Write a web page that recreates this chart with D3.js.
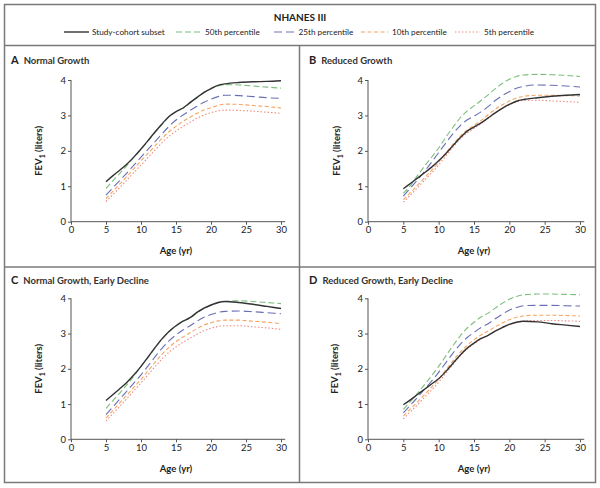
<!DOCTYPE html>
<html><head><meta charset="utf-8">
<script src="https://cdn.jsdelivr.net/npm/d3@7"></script>
<style>
body{margin:0;background:#fff;}
text{font-family:Lato,"Open Sans",sans-serif;fill:#222;}
</style></head>
<body><svg id="c" width="600" height="488"></svg>
<script>
const ages = [5,6,7,8,9,10,11,12,13,14,15,16,17,18,19,20,21,22,24,26,28,30];
const seriesNames = ["Study-cohort subset","50th percentile","25th percentile","10th percentile","5th percentile"];
const xTicks = [0,5,10,15,20,25,30];
const yTicks = [0,1,2,3,4];
const panelTitles = [["A","Normal Growth"],["B","Reduced Growth"],["C","Normal Growth, Early Decline"],["D","Reduced Growth, Early Decline"]];

// Panel A
const aCohort = [1.13,1.30,1.46,1.63,1.83,2.05,2.29,2.53,2.76,2.97,3.11,3.21,3.36,3.51,3.65,3.76,3.85,3.89,3.93,3.95,3.96,3.98];
const aP50 = [0.94,1.16,1.37,1.59,1.82,2.04,2.28,2.52,2.75,2.96,3.10,3.20,3.35,3.50,3.64,3.75,3.83,3.87,3.86,3.83,3.80,3.77];
const aP25 = [0.75,0.96,1.17,1.38,1.60,1.82,2.04,2.26,2.48,2.69,2.87,3.01,3.14,3.26,3.37,3.46,3.53,3.57,3.56,3.53,3.50,3.48];
const aP10 = [0.65,0.86,1.07,1.28,1.50,1.72,1.93,2.14,2.35,2.54,2.69,2.83,2.95,3.06,3.15,3.22,3.28,3.32,3.31,3.28,3.25,3.21];
const aP5  = [0.57,0.77,0.97,1.18,1.39,1.60,1.81,2.02,2.23,2.41,2.56,2.69,2.81,2.92,3.01,3.08,3.13,3.15,3.14,3.12,3.09,3.06];
// Panel B
const bCohort = [0.93,1.08,1.23,1.38,1.54,1.72,1.92,2.14,2.36,2.55,2.67,2.79,2.93,3.07,3.20,3.31,3.40,3.45,3.50,3.54,3.57,3.59];
const bP50 = [0.80,1.02,1.30,1.57,1.82,2.08,2.38,2.66,2.92,3.12,3.27,3.42,3.58,3.75,3.90,4.02,4.10,4.14,4.16,4.15,4.13,4.10];
const bP25 = [0.72,0.95,1.18,1.42,1.68,1.95,2.22,2.48,2.70,2.87,2.98,3.10,3.25,3.42,3.56,3.67,3.77,3.82,3.86,3.85,3.83,3.80];
const bP10 = [0.62,0.82,1.03,1.24,1.45,1.68,1.93,2.18,2.40,2.58,2.72,2.86,3.02,3.17,3.30,3.41,3.49,3.54,3.57,3.57,3.56,3.55];
const bP5  = [0.55,0.75,0.96,1.17,1.38,1.60,1.85,2.10,2.33,2.50,2.63,2.77,2.92,3.07,3.20,3.30,3.38,3.42,3.43,3.41,3.39,3.37];
// Panel C
const cCohort = [1.10,1.27,1.44,1.62,1.83,2.07,2.33,2.60,2.85,3.06,3.22,3.35,3.45,3.60,3.72,3.81,3.88,3.91,3.88,3.83,3.77,3.71];
const cP50 = [0.88,1.10,1.32,1.55,1.80,2.06,2.32,2.59,2.84,3.05,3.21,3.34,3.44,3.59,3.71,3.80,3.87,3.91,3.93,3.91,3.88,3.85];
const cP25 = [0.70,0.92,1.15,1.37,1.60,1.83,2.08,2.34,2.58,2.79,2.96,3.10,3.22,3.35,3.46,3.54,3.60,3.63,3.64,3.62,3.59,3.56];
const cP10 = [0.60,0.82,1.04,1.26,1.48,1.70,1.94,2.18,2.41,2.61,2.77,2.90,3.02,3.14,3.24,3.31,3.36,3.38,3.38,3.35,3.32,3.28];
const cP5  = [0.52,0.73,0.94,1.16,1.38,1.60,1.83,2.06,2.28,2.47,2.62,2.75,2.87,2.98,3.08,3.15,3.20,3.22,3.22,3.19,3.16,3.12];
// Panel D
const dCohort = [0.98,1.12,1.27,1.42,1.57,1.72,1.92,2.15,2.38,2.58,2.73,2.86,2.95,3.07,3.17,3.26,3.32,3.35,3.33,3.28,3.24,3.20];
const dP50 = [0.85,1.07,1.30,1.55,1.80,2.07,2.36,2.65,2.92,3.15,3.32,3.47,3.58,3.72,3.86,3.97,4.05,4.10,4.12,4.12,4.11,4.10];
const dP25 = [0.75,0.97,1.19,1.42,1.65,1.90,2.17,2.44,2.68,2.88,3.03,3.17,3.28,3.42,3.55,3.66,3.74,3.79,3.80,3.80,3.79,3.78];
const dP10 = [0.66,0.86,1.06,1.27,1.48,1.70,1.96,2.22,2.46,2.66,2.82,2.96,3.07,3.19,3.30,3.39,3.46,3.50,3.52,3.52,3.51,3.50];
const dP5  = [0.58,0.78,0.98,1.19,1.40,1.62,1.87,2.12,2.36,2.56,2.71,2.84,2.95,3.07,3.17,3.25,3.31,3.35,3.37,3.37,3.36,3.35];

const panelData = [
  [aCohort,aP50,aP25,aP10,aP5],
  [bCohort,bP50,bP25,bP10,bP5],
  [cCohort,cP50,cP25,cP10,cP5],
  [dCohort,dP50,dP25,dP10,dP5]
];

const styles = [
  {color:"#333333", dash:null, w:1.4},
  {color:"#7cbf7c", dash:"6,3", w:1.1},
  {color:"#6a6fb5", dash:"8,4", w:1.1},
  {color:"#f4a560", dash:"4,2.5", w:1.1},
  {color:"#f08a80", dash:"1.5,2", w:1.1}
];

const svg = d3.select("#c");
const frame = "#7a7a7a";
svg.append("rect").attr("x",4.5).attr("y",4.5).attr("width",591).attr("height",478)
  .attr("fill","none").attr("stroke",frame).attr("stroke-width",1.5);
svg.append("line").attr("x1",4).attr("x2",596).attr("y1",45.5).attr("y2",45.5).attr("stroke",frame).attr("stroke-width",1.5);
svg.append("line").attr("x1",4).attr("x2",596).attr("y1",267).attr("y2",267).attr("stroke",frame).attr("stroke-width",1.5);
svg.append("line").attr("x1",299.5).attr("x2",299.5).attr("y1",45).attr("y2",483).attr("stroke",frame).attr("stroke-width",1.5);

// Legend
svg.append("text").attr("x",300).attr("y",21).attr("text-anchor","middle")
  .attr("font-size",10).attr("font-weight",700).text("NHANES III");
const legX = [[64,89,92],[176,201,205],[274,295,298.5],[361,388,392],[455,480,484]];
seriesNames.forEach((n,i)=>{
  const s = styles[i];
  svg.append("line").attr("x1",legX[i][0]).attr("x2",legX[i][1]).attr("y1",32).attr("y2",32)
    .attr("stroke",s.color).attr("stroke-width",s.w).attr("stroke-dasharray",s.dash);
  svg.append("text").attr("x",legX[i][2]).attr("y",35).attr("font-size",8.2).attr("fill","#333").text(n);
});

const layouts = [
  {x0:71,x1:281,y0:221.7,y1:80, tx:11, ty:64, ax:176, ay:254, fx:42},
  {x0:368,x1:580,y0:221.7,y1:80, tx:309, ty:64, ax:474, ay:254, fx:340},
  {x0:71,x1:281,y0:439.3,y1:298.3, tx:11, ty:284, ax:176, ay:472, fx:42},
  {x0:368,x1:580,y0:439.3,y1:298.3, tx:309, ty:284, ax:474, ay:472, fx:338}
];

layouts.forEach((L,p)=>{
  const x = d3.scaleLinear().domain([0,30]).range([L.x0,L.x1]);
  const y = d3.scaleLinear().domain([0,4]).range([L.y0,L.y1]);
  const g = svg.append("g");
  const t = g.append("text").attr("x",L.tx).attr("y",L.ty).attr("font-size",9.5);
  t.append("tspan").attr("font-weight",700).attr("font-size",11).text(panelTitles[p][0]);
  t.append("tspan").attr("dx",5).attr("font-weight",700).attr("fill","#333").text(panelTitles[p][1]);
  const xa = g.append("g").attr("transform",`translate(0,${L.y0})`)
    .call(d3.axisBottom(x).tickValues(xTicks).tickFormat(d3.format("d")).tickSize(3).tickPadding(2));
  xa.select(".domain").attr("d",`M${L.x0},0H${x(30.6)}`);
  const ya = g.append("g").attr("transform",`translate(${L.x0},0)`)
    .call(d3.axisLeft(y).tickValues(yTicks).tickFormat(d3.format("d")).tickSize(3).tickPadding(2));
  ya.select(".domain").attr("d",`M0,${L.y0}V${L.y1}`);
  [xa,ya].forEach(a=>{
    a.selectAll(".domain,line").attr("stroke","#555").attr("stroke-width",1);
    a.selectAll("text").attr("font-size",9.5).attr("fill","#444").attr("font-family","Lato, sans-serif");
  });
  g.append("text").attr("x",L.ax).attr("y",L.ay).attr("text-anchor","middle")
    .attr("font-size",9.5).attr("font-weight",700).attr("fill","#333").text("Age (yr)");
  const fy = (L.y0+L.y1)/2;
  const ft = g.append("text").attr("transform",`translate(${L.fx},${fy}) rotate(-90)`)
    .attr("text-anchor","middle").attr("font-size",9.5).attr("font-weight",700).attr("fill","#333");
  ft.append("tspan").text("FEV");
  ft.append("tspan").attr("font-size",7).attr("dy",2.5).text("1");
  ft.append("tspan").attr("dy",-2.5).text(" (liters)");
  const line = d3.line().x((d,i)=>x(ages[i])).y(d=>y(d)).curve(d3.curveMonotoneX);
  [4,3,2,1,0].forEach(si=>{
    const s = styles[si];
    g.append("path").attr("d",line(panelData[p][si])).attr("fill","none")
      .attr("stroke",s.color).attr("stroke-width",s.w).attr("stroke-dasharray",s.dash);
  });
});
</script></body></html>
